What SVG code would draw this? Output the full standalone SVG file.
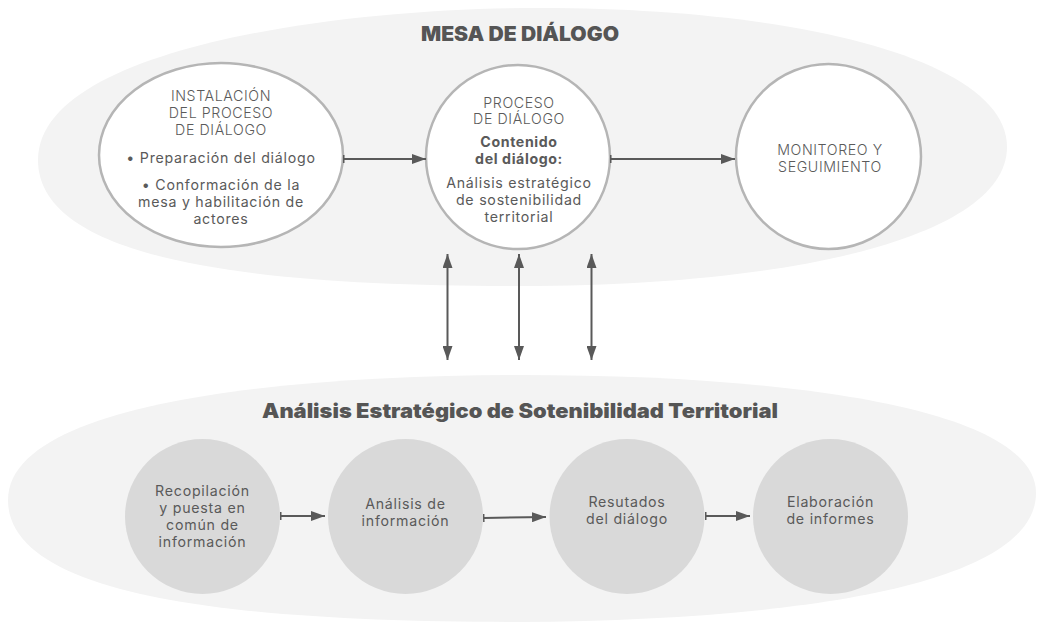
<svg xmlns="http://www.w3.org/2000/svg" width="1037" height="622" viewBox="0 0 1037 622">
<defs>
<marker id="ah" viewBox="0 0 14 10" refX="14" refY="5" markerWidth="14" markerHeight="10" markerUnits="userSpaceOnUse" orient="auto-start-reverse">
<path d="M0,0 L14,5 L0,10 Z" fill="#595959"/>
</marker>
<marker id="tk" viewBox="0 0 2 10" refX="1" refY="5" markerWidth="2" markerHeight="10" markerUnits="userSpaceOnUse" orient="auto">
<rect x="0" y="1" width="1.5" height="8" fill="#595959"/>
</marker>
<style>
.bg{fill:#f3f3f3}
.wn{fill:#ffffff;stroke:#b5b5b5;stroke-width:2.5}
.gn{fill:#d9d9d9}
.t{font-family:Inter,"Liberation Sans",sans-serif;font-size:14.2px;letter-spacing:0.75px;fill:#5a5a5a;text-anchor:middle}
.u{font-weight:300;letter-spacing:0.6px}
.b{font-weight:bold;letter-spacing:0.6px}
.h{font-family:Inter,"Liberation Sans",sans-serif;font-size:20px;font-weight:900;fill:#555555;text-anchor:middle}
.c{stroke:#595959;stroke-width:2;fill:none}
</style>
</defs>
<rect width="1037" height="622" fill="#ffffff"/>
<path class="bg" d="M38,160 C38,50 330,8 540,8 C800,8 1007,60 1007,147 C1007,235 800,286 520,286 C250,286 38,260 38,160 Z"/>
<path class="bg" d="M8,500 C8,400 300,375 520,375 C800,375 1036,410 1036,493 C1036,585 800,620 520,622 C250,622 8,600 8,500 Z"/>
<text class="h" x="520" y="41" textLength="198" lengthAdjust="spacingAndGlyphs">MESA DE DIÁLOGO</text>
<text class="h" x="520" y="418" textLength="516" lengthAdjust="spacingAndGlyphs">Análisis Estratégico de Sotenibilidad Territorial</text>
<g id="n1">
<ellipse class="wn" cx="221" cy="155" rx="122" ry="92"/>
<text class="t u" x="221" y="101">INSTALACIÓN</text>
<text class="t u" x="221" y="118">DEL PROCESO</text>
<text class="t u" x="221" y="135">DE DIÁLOGO</text>
<text class="t" x="221" y="163">• Preparación del diálogo</text>
<text class="t" x="221" y="190">• Conformación de la</text>
<text class="t" x="221" y="207">mesa y habilitación de</text>
<text class="t" x="221" y="224">actores</text>
</g>
<g id="n2">
<circle class="wn" cx="518" cy="157" r="92"/>
<text class="t u" x="519" y="108">PROCESO</text>
<text class="t u" x="519" y="124">DE DIÁLOGO</text>
<text class="t b" x="519" y="147">Contenido</text>
<text class="t b" x="519" y="164">del diálogo:</text>
<text class="t" x="519" y="188">Análisis estratégico</text>
<text class="t" x="519" y="205">de sostenibilidad</text>
<text class="t" x="519" y="222">territorial</text>
</g>
<g id="n3">
<circle class="wn" cx="828.5" cy="156.5" r="92.5"/>
<text class="t u" x="830" y="155">MONITOREO Y</text>
<text class="t u" x="830" y="172">SEGUIMIENTO</text>
</g>
<g id="n4">
<circle class="gn" cx="202.5" cy="516.5" r="77.5"/>
<text class="t" x="202.5" y="496">Recopilación</text>
<text class="t" x="202.5" y="513">y puesta en</text>
<text class="t" x="202.5" y="530">común de</text>
<text class="t" x="202.5" y="547">información</text>
</g>
<g id="n5">
<circle class="gn" cx="405.5" cy="516.5" r="77.5"/>
<text class="t" x="405.5" y="509">Análisis de</text>
<text class="t" x="405.5" y="526">información</text>
</g>
<g id="n6">
<circle class="gn" cx="627" cy="516.5" r="77.5"/>
<text class="t" x="627" y="507">Resutados</text>
<text class="t" x="627" y="524">del diálogo</text>
</g>
<g id="n7">
<circle class="gn" cx="830.5" cy="516.5" r="77.5"/>
<text class="t" x="830.5" y="507">Elaboración</text>
<text class="t" x="830.5" y="524">de informes</text>
</g>
<g id="connectors">
<line class="c" x1="344" y1="159" x2="426" y2="159" marker-start="url(#tk)" marker-end="url(#ah)"/>
<line class="c" x1="611" y1="159" x2="735" y2="159" marker-start="url(#tk)" marker-end="url(#ah)"/>
<line class="c" x1="447.5" y1="254" x2="447.5" y2="360" marker-start="url(#ah)" marker-end="url(#ah)"/>
<line class="c" x1="519" y1="254" x2="519" y2="360" marker-start="url(#ah)" marker-end="url(#ah)"/>
<line class="c" x1="591.5" y1="254" x2="591.5" y2="360" marker-start="url(#ah)" marker-end="url(#ah)"/>
<line class="c" x1="281" y1="516" x2="325" y2="516" marker-start="url(#tk)" marker-end="url(#ah)"/>
<line class="c" x1="484" y1="518" x2="546" y2="517" marker-start="url(#tk)" marker-end="url(#ah)"/>
<line class="c" x1="706" y1="516" x2="750" y2="516" marker-start="url(#tk)" marker-end="url(#ah)"/>
</g>
</svg>
